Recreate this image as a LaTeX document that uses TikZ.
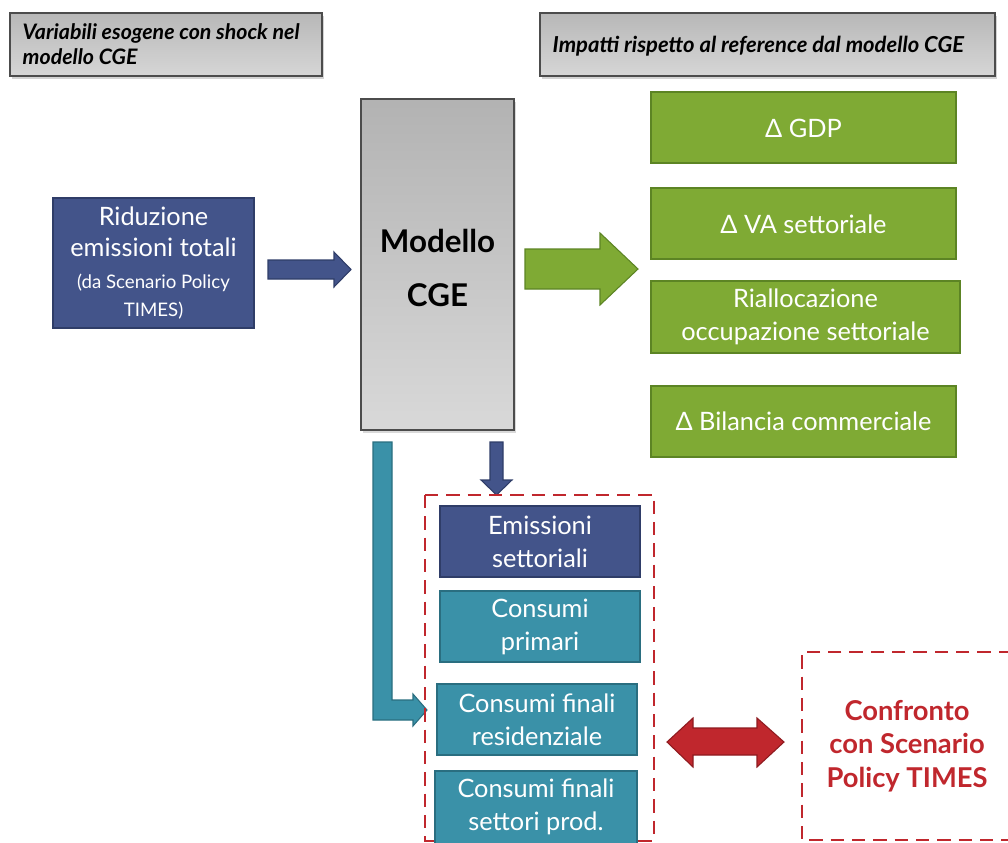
\documentclass[tikz,border=0pt]{standalone}
\usepackage{fontspec}
\setmainfont{Lato}
\usetikzlibrary{shapes.arrows,shadows,calc}
\definecolor{dblue}{HTML}{43548A}
\definecolor{dblueb}{HTML}{2F3D68}
\definecolor{teal}{HTML}{3A91A8}
\definecolor{tealb}{HTML}{2A6E80}
\definecolor{green}{HTML}{7FAA34}
\definecolor{greenb}{HTML}{5C8424}
\definecolor{cred}{HTML}{C0272D}
\definecolor{credb}{HTML}{8E1A1F}
\begin{document}
\begin{tikzpicture}[x=0.75pt,y=-0.75pt,
  greybox/.style={draw=black!70, line width=1.2pt, top color=black!28, bottom color=black!16, drop shadow={opacity=0.35,shadow xshift=1.5pt,shadow yshift=-2pt}, inner sep=0pt},
  bluebox/.style={fill=dblue, draw=dblueb, line width=1.2pt},
  tealbox/.style={fill=teal, draw=tealb, line width=1.2pt},
  greenbox/.style={fill=green, draw=greenb, line width=1.2pt},
  wtxt/.style={text=white, align=center, font=\fontsize{19}{24.75}\selectfont},
  reddash/.style={draw=cred, line width=2.2pt, dash pattern=on 10pt off 6pt},
]
\useasboundingbox (0,0) rectangle (1008,843);

% top grey boxes
\path[greybox] (10,13) rectangle (322,76);
\node[anchor=west, align=left, font=\fontsize{16}{19}\selectfont\bfseries\itshape] (tl) at (18,44) {Variabili esogene con shock nel\\modello CGE};
\path[greybox] (540,13) rectangle (995,76);
\node[anchor=west, font=\fontsize{16.5}{19}\selectfont\bfseries\itshape] (tr) at (548,46) {Impatti rispetto al reference dal modello CGE};

% Riduzione
\path[bluebox] (53,198) rectangle (254,328);
\node[wtxt, font=\fontsize{19}{23}\selectfont] (rid) at (153.5,263) {Riduzione\\emissioni totali\\[1pt]{\fontsize{14}{17}\selectfont (da Scenario Policy}\\[-2pt]{\fontsize{14}{17}\selectfont TIMES)}};

% Modello CGE
\path[draw=black!70, line width=1.2pt, top color=black!30, bottom color=black!15, drop shadow={opacity=0.3,shadow xshift=1.5pt,shadow yshift=-2pt}] (361,99) rectangle (514,430);
\node[font=\fontsize{23.5}{41}\selectfont\bfseries, align=center] (cge) at (437.5,268) {Modello\\CGE};

% blue right arrow
\path[fill=dblue, draw=dblueb, line width=0.8pt] (268,260) -- (334,260) -- (334,252) -- (351,269.5) -- (334,287) -- (334,279) -- (268,279) -- cycle;

% green arrow
\path[fill=green, draw=greenb, line width=0.8pt] (525,249) -- (600,249) -- (600,233) -- (638,269) -- (600,305) -- (600,289) -- (525,289) -- cycle;

% green boxes
\path[greenbox] (651,92) rectangle (956,163);
\node[wtxt] (gdp) at (803.5,128) {Δ GDP};
\path[greenbox] (651,188) rectangle (956,259);
\node[wtxt] (va) at (803.5,224) {Δ VA settoriale};
\path[greenbox] (651,281) rectangle (960,353);
\node[wtxt] (ria) at (805.5,317) {Riallocazione\\occupazione settoriale};
\path[greenbox] (651,386) rectangle (956,457);
\node[wtxt] (bil) at (803.5,421) {Δ Bilancia commerciale};

% teal L arrow
\path[fill=teal, draw=tealb, line width=0.8pt] (373,442) -- (392,442) -- (392,700) -- (413,700) -- (413,694) -- (427,710) -- (413,726) -- (413,720) -- (373,720) -- cycle;

% down blue arrow
\path[fill=dblue, draw=dblueb, line width=0.8pt] (490,442) -- (503,442) -- (503,480) -- (512,480) -- (496.5,495) -- (481,480) -- (490,480) -- cycle;

% red dashed group
\draw[reddash] (425,495) -- (654,495) -- (654,842);
\draw[reddash] (425,495) -- (425,842);
\draw[reddash] (425,841) -- (654,841);

% group boxes
\path[bluebox] (440,506) rectangle (640,577);
\node[wtxt] (ems) at (540,541.5) {Emissioni\\settoriali};
\path[tealbox] (440,591) rectangle (640,662);
\node[wtxt] (cp) at (540,626.5) {Consumi\\primari};
\path[tealbox] (437,684) rectangle (637,755);
\node[wtxt] (cfr) at (537,719.5) {Consumi finali\\residenziale};
\path[tealbox] (435,771) rectangle (637,850);
\node[wtxt] (cfs) at (536,807) {Consumi finali\\settori prod.};

% red double arrow
\path[fill=cred, draw=credb, line width=0.8pt] (667,742) -- (693,718) -- (693,728) -- (757,728) -- (757,718) -- (784,742) -- (757,767) -- (757,755) -- (693,755) -- (693,767) -- cycle;

% right red dashed box
\draw[reddash] (1012,652) -- (802,652) -- (802,840) -- (1012,840);
\node[text=cred, align=center, font=\fontsize{20.5}{25}\selectfont\bfseries] (conf) at (907,746) {Confronto\\con Scenario\\Policy TIMES};
\end{tikzpicture}
\end{document}
